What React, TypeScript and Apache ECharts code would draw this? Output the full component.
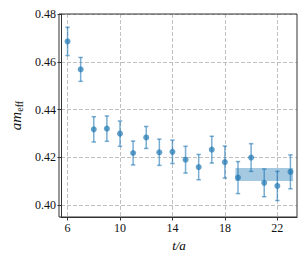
import React, { useEffect, useRef } from "react";
import * as echarts from "echarts";

const tValues = [6, 7, 8, 9, 10, 11, 12, 13, 14, 15, 16, 17, 18, 19, 20, 21, 22, 23];
const meffValues = [0.4685, 0.4568, 0.4317, 0.432, 0.4299, 0.4218, 0.4283, 0.4221, 0.4223, 0.419, 0.4159, 0.4232, 0.418, 0.4115, 0.4199, 0.4093, 0.408, 0.4139];
const meffErrors = [0.0059, 0.005, 0.0053, 0.0053, 0.0053, 0.005, 0.0046, 0.0055, 0.0049, 0.0056, 0.0053, 0.0056, 0.0067, 0.0067, 0.0058, 0.0058, 0.0061, 0.0071];
const fitBandX = [18.8, 23.2];
const fitValue = 0.4128;
const fitError = 0.0027;
const xTicks = [6, 10, 14, 18, 22];
const yTicks = [0.4, 0.42, 0.44, 0.46, 0.48];

const FONT = "'Liberation Serif', 'DejaVu Serif', serif";
const BLUE = "#1f77b4";

export default function App() {
  const ref = useRef<HTMLDivElement>(null);
  useEffect(() => {
    if (!ref.current) return;
    const chart = echarts.init(ref.current, undefined, { renderer: "svg" });
    const points = tValues.map((t, i) => [t, meffValues[i], meffValues[i] - meffErrors[i], meffValues[i] + meffErrors[i]]);
    const band = [[fitBandX[0], fitBandX[1], fitValue - fitError, fitValue + fitError]];
    chart.setOption({
      animation: false,
      grid: { left: 59, right: 10, top: 14, bottom: 49, show: false },
      xAxis: {
        type: "value",
        min: 5.5,
        max: 23.5,
        name: "t/a",
        nameLocation: "middle",
        nameGap: 17,
        nameTextStyle: { fontFamily: FONT, fontStyle: "italic", fontSize: 13, color: "#000", verticalAlign: "top" },
        axisLine: { show: true, onZero: false, lineStyle: { color: "#333", width: 1 } },
        axisTick: { show: true, length: 3.5, customValues: xTicks, lineStyle: { color: "#333" } },
        axisLabel: { customValues: xTicks, fontFamily: FONT, fontSize: 12, color: "#111", margin: 5 },
        splitLine: { show: true, lineStyle: { color: "#b0b0b0", type: [4, 2], width: 0.8 } },
      },
      yAxis: {
        type: "value",
        min: 0.395,
        max: 0.48,
        name: "{i|am}{s|eff}",
        nameLocation: "middle",
        nameGap: 37,
        nameRotate: 90,
        nameTextStyle: {
          color: "#000",
          rich: {
            i: { fontFamily: FONT, fontStyle: "italic", fontSize: 15, color: "#111" },
            s: { fontFamily: FONT, fontSize: 10, color: "#111", verticalAlign: "bottom", padding: [7, 0, 0, 0] },
          },
        },
        axisLine: { show: true, onZero: false, lineStyle: { color: "#333", width: 1 } },
        axisTick: { show: true, length: 3.5, customValues: yTicks, lineStyle: { color: "#333" } },
        axisLabel: {
          customValues: yTicks,
          fontFamily: FONT,
          fontSize: 12,
          color: "#111",
          margin: 5,
          formatter: (v: number) => v.toFixed(2),
        },
        splitLine: { show: true, lineStyle: { color: "#b0b0b0", type: [4, 2], width: 0.8 } },
      },
      graphic: [
        {
          type: "rect",
          shape: { x: 59, y: 14, width: 307 - 10 - 59, height: 266 - 49 - 14 },
          style: { fill: "none", stroke: "#333", lineWidth: 1 },
          silent: true,
          z: 10,
        },
      ],
      series: [
        {
          type: "custom",
          data: band,
          renderItem: (params: any, api: any) => {
            const p1 = api.coord([api.value(0), api.value(3)]);
            const p2 = api.coord([api.value(1), api.value(2)]);
            return {
              type: "rect",
              shape: { x: p1[0], y: p1[1], width: p2[0] - p1[0], height: p2[1] - p1[1] },
              style: { fill: BLUE, opacity: 0.4 },
            };
          },
          z: 2,
        },
        {
          type: "custom",
          data: points,
          renderItem: (params: any, api: any) => {
            const lo = api.coord([api.value(0), api.value(2)]);
            const hi = api.coord([api.value(0), api.value(3)]);
            const cw = 2.2;
            const st = { stroke: BLUE, lineWidth: 1.5, opacity: 0.6 };
            return {
              type: "group",
              children: [
                { type: "line", shape: { x1: lo[0], y1: lo[1], x2: hi[0], y2: hi[1] }, style: st },
                { type: "line", shape: { x1: lo[0] - cw, y1: lo[1], x2: lo[0] + cw, y2: lo[1] }, style: st },
                { type: "line", shape: { x1: hi[0] - cw, y1: hi[1], x2: hi[0] + cw, y2: hi[1] }, style: st },
              ],
            };
          },
          z: 3,
        },
        {
          type: "scatter",
          data: points.map((p) => [p[0], p[1]]),
          symbol: "circle",
          symbolSize: 6,
          itemStyle: { color: BLUE, opacity: 0.7 },
          z: 4,
        },
      ],
    });
    return () => chart.dispose();
  }, []);
  return <div ref={ref} style={{ width: 307, height: 266, position: "absolute", left: 0, top: 0 }} />;
}
